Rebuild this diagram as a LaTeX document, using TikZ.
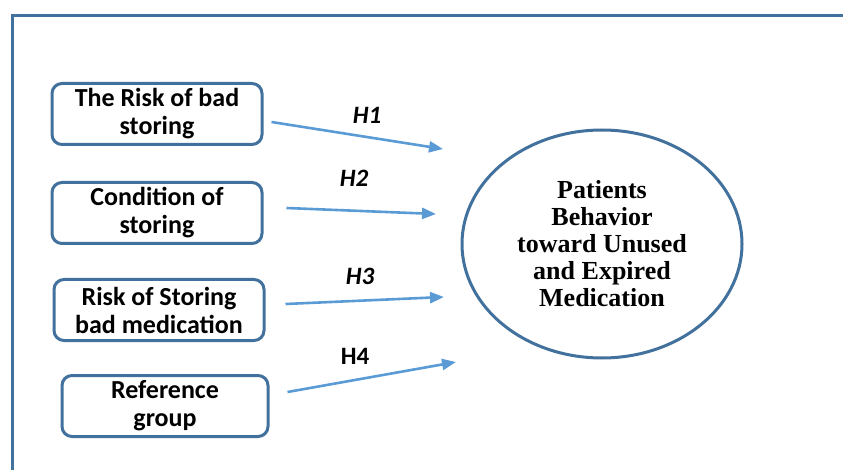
\documentclass[tikz,border=0pt]{standalone}
\usepackage{fontspec}
\setmainfont{Liberation Serif}
\newfontfamily\boxfont{Carlito}
\usetikzlibrary{arrows.meta, positioning, shapes.geometric}

\definecolor{frameblue}{HTML}{41719C}
\definecolor{arrowblue}{HTML}{5B9BD5}

\begin{document}
\begin{tikzpicture}[
    x=1pt, y=-1pt,
    factor/.style={draw=frameblue, line width=3pt, rectangle, rounded corners=10pt, align=center,
        minimum width=210pt, minimum height=61pt, inner sep=1pt,
        font=\boxfont\bfseries\fontsize{26}{28}\selectfont},
    outcome/.style={draw=frameblue, line width=3pt, ellipse, minimum width=280pt, minimum height=228pt,
        align=center, inner sep=0pt, font=\bfseries\fontsize{26}{27}\selectfont},
    hyp/.style={draw=arrowblue, line width=2.6pt, -{Triangle[length=14pt,width=11pt]}},
    hlabel/.style={font=\boxfont\bfseries\fontsize{25}{26}\selectfont}
]
\useasboundingbox (0,0) rectangle (843,470);

% frame
\draw[frameblue, line width=3.5pt] (12.5,470) -- (12.5,15.5) -- (843,15.5);

% factors
\node[factor] (risk) at (157,114) {The Risk of bad\\storing};
\node[factor] (cond) at (157,213) {Condition of\\storing};
\node[factor] (store) at (159,310) {Risk of Storing\\bad medication};
\node[factor, minimum width=206pt] (ref) at (165,406) {Reference\\group};

% outcome
\node[outcome] (behav) at (602,244) {Patients\\Behavior\\toward Unused\\and Expired\\Medication};

% arrow ends
\coordinate (t1) at (443,149);
\coordinate (t2) at (436,214);
\coordinate (t3) at (444,297);
\coordinate (t4) at (456,362);

\draw[hyp] ([shift={(8,8)}]risk.east) -- (t1);
\draw[hyp] ([shift={(23,-5)}]cond.east) -- (t2);
\draw[hyp] ([shift={(20,-6)}]store.east) -- (t3);
\draw[hyp] ([shift={(18,-14)}]ref.east) -- (t4);

% labels
\node[hlabel] (l1) at (367,115) {\itshape H1};
\node[hlabel] (l2) at (354,178) {\itshape H2};
\node[hlabel] (l3) at (360,276) {\itshape H3};
\node[hlabel] (l4) at (355,356) {H4};

\end{tikzpicture}
\end{document}
